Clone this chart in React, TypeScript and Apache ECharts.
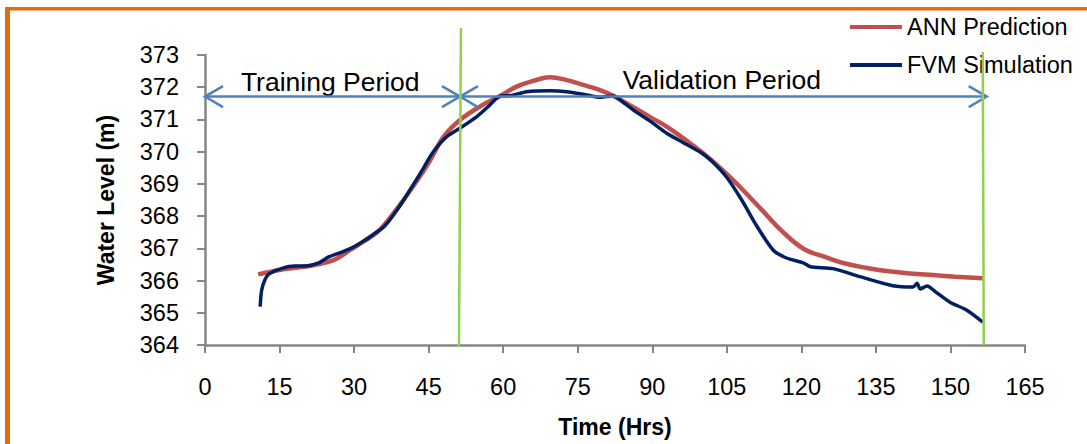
import React, { useEffect, useRef } from "react";
import * as echarts from "echarts";

// ---- data ----
const annTimes = [10.7, 15, 19, 22, 26, 29.2, 32, 35, 38, 42, 45, 48, 51.3, 55.3, 59.4, 62.7, 66.1, 69.4, 72.8, 76.1, 79.5, 82.2, 86.2, 89.5, 92.9, 96.2, 100, 104, 108, 112, 116, 120.5, 125, 129, 133.2, 138, 142, 146.5, 151, 156.5];
const annValues = [366.19, 366.33, 366.41, 366.48, 366.64, 366.95, 367.22, 367.55, 368.1, 368.95, 369.65, 370.46, 370.98, 371.4, 371.73, 372.02, 372.2, 372.31, 372.22, 372.07, 371.91, 371.73, 371.38, 371.08, 370.78, 370.42, 369.98, 369.45, 368.85, 368.2, 367.55, 366.98, 366.72, 366.52, 366.39, 366.28, 366.22, 366.17, 366.12, 366.07];

const fvmTimes = [11.1, 11.4, 12.2, 13, 15.5, 18, 20.2, 22.7, 25, 27.8, 30, 32.5, 34.5, 35.5, 36.5, 38, 40, 42, 44, 45.5, 47, 48.6, 51.3, 54.7, 57, 59.4, 61.5, 64.7, 69.4, 72.8, 76.8, 79.5, 82.2, 84, 86.2, 90, 92.9, 96, 100, 102, 105, 108, 111, 114.3, 117, 120.4, 121.8, 126.4, 131.8, 138.4, 142.5, 143.3, 143.9, 145.3, 147, 149.9, 153.3, 156.5];
const fvmValues = [365.19, 365.7, 366.07, 366.22, 366.38, 366.45, 366.45, 366.54, 366.74, 366.9, 367.05, 367.28, 367.5, 367.6, 367.75, 368.05, 368.5, 369.0, 369.5, 369.9, 370.2, 370.46, 370.73, 371.09, 371.4, 371.73, 371.74, 371.86, 371.89, 371.86, 371.76, 371.69, 371.73, 371.55, 371.29, 370.9, 370.57, 370.3, 369.95, 369.7, 369.2, 368.5, 367.7, 366.95, 366.7, 366.55, 366.43, 366.37, 366.12, 365.84, 365.8, 365.92, 365.74, 365.83, 365.65, 365.33, 365.08, 364.71];

const seriesNames = ["ANN Prediction", "FVM Simulation"];
const periodLabels = ["Training Period", "Validation Period"];
// period boundaries (hrs) and the level (m) of the arrows
const periodBounds = [0, 51.3, 157.3];
const arrowLevel = 371.71;
const labelAnchors = [
  [25.2, 372.16],
  [104, 372.22],
];
// green separator lines [tTop, vTop, tBottom, vBottom]
const separators = [
  [51.5, 373.84, 51.1, 363.94],
  [156.5, 373.09, 156.7, 364.0],
];

const FONT = '"Liberation Sans", Arial, sans-serif';

export default function App() {
  const ref = useRef<HTMLDivElement>(null);
  useEffect(() => {
    const chart = echarts.init(ref.current!, null, { renderer: "svg" });
    const option: any = {
      animation: false,
      backgroundColor: "#ffffff",
      grid: { left: 205, top: 55, width: 820, height: 290, containLabel: false },
      legend: {
        orient: "vertical",
        left: 850,
        top: 15,
        padding: 0,
        icon: "rect",
        itemWidth: 52,
        itemHeight: 4,
        itemGap: 14,
        textStyle: { fontFamily: FONT, fontSize: 23.5, color: "#000" },
        data: seriesNames,
      },
      xAxis: {
        type: "value",
        min: 0,
        max: 165,
        interval: 15,
        name: "Time (Hrs)",
        nameLocation: "middle",
        nameGap: 70,
        nameTextStyle: { fontFamily: FONT, fontSize: 23, fontWeight: "bold", color: "#000" },
        axisLine: { lineStyle: { color: "#868686", width: 2.5 } },
        axisTick: { show: true, length: 8, lineStyle: { color: "#868686", width: 2 } },
        axisLabel: { fontFamily: FONT, fontSize: 23.5, color: "#000", margin: 30 },
        splitLine: { show: false },
      },
      yAxis: {
        type: "value",
        min: 364,
        max: 373,
        interval: 1,
        name: "Water Level (m)",
        nameLocation: "middle",
        nameGap: 88,
        nameTextStyle: { fontFamily: FONT, fontSize: 23, fontWeight: "bold", color: "#000" },
        axisLine: { show: true, lineStyle: { color: "#868686", width: 2.5 } },
        axisTick: { show: true, length: 8, lineStyle: { color: "#868686", width: 2 } },
        axisLabel: { fontFamily: FONT, fontSize: 23.5, color: "#000", margin: 26 },
        splitLine: { show: false },
      },
      series: [
        {
          name: seriesNames[0],
          type: "line",
          data: annTimes.map((t, i) => [t, annValues[i]]),
          symbol: "none",
          smooth: 0.4,
          lineStyle: { color: "#C0504D", width: 4.5 },
          itemStyle: { color: "#C0504D" },
          z: 2,
        },
        {
          name: seriesNames[1],
          type: "line",
          data: fvmTimes.map((t, i) => [t, fvmValues[i]]),
          symbol: "none",
          smooth: 0.25,
          lineStyle: { color: "#002060", width: 3.5 },
          itemStyle: { color: "#002060" },
          z: 3,
        },
      ],
    };
    chart.setOption(option);

    const px = (t: number, v: number) => chart.convertToPixel({ gridIndex: 0 }, [t, v]) as number[];
    const blue = "#4F81BD";
    const els: any[] = [];
    // orange frame
    els.push({ type: "rect", shape: { x: 5, y: 7, width: 5, height: 440 }, style: { fill: "#E46C0A" }, z: 20 });
    els.push({ type: "rect", shape: { x: 5, y: 7, width: 1090, height: 3.5 }, style: { fill: "#E46C0A" }, z: 20 });

    // arrows
    for (let k = 0; k < 2; k++) {
      const a = px(periodBounds[k], arrowLevel);
      const b = px(periodBounds[k + 1], arrowLevel);
      els.push({ type: "line", shape: { x1: a[0], y1: a[1], x2: b[0], y2: b[1] }, style: { stroke: blue, lineWidth: 2.5 }, z: 10 });
      els.push({ type: "polyline", shape: { points: [[a[0] + 18, a[1] - 10.5], [a[0], a[1]], [a[0] + 18, a[1] + 10.5]] }, style: { stroke: blue, lineWidth: 2.5, fill: null }, z: 10 });
      els.push({ type: "polyline", shape: { points: [[b[0] - 18, b[1] - 10.5], [b[0], b[1]], [b[0] - 18, b[1] + 10.5]] }, style: { stroke: blue, lineWidth: 2.5, fill: null }, z: 10 });
      const c = px(labelAnchors[k][0], labelAnchors[k][1]);
      els.push({ type: "text", x: c[0], y: c[1], style: { text: periodLabels[k], fontFamily: FONT, fontSize: 26.5, fill: "#000", align: "center", verticalAlign: "middle" }, z: 9 });
    }
    // green separators
    separators.forEach((s) => {
      const p = px(s[0], s[1]);
      const q = px(s[2], s[3]);
      els.push({ type: "line", shape: { x1: p[0], y1: p[1], x2: q[0], y2: q[1] }, style: { stroke: "#92D050", lineWidth: 2.5 }, z: 11 });
    });
    chart.setOption({ graphic: els });
    return () => chart.dispose();
  }, []);
  return <div ref={ref} style={{ position: "fixed", left: 0, top: 0, width: 1087, height: 444, background: "#fff" }} />;
}
